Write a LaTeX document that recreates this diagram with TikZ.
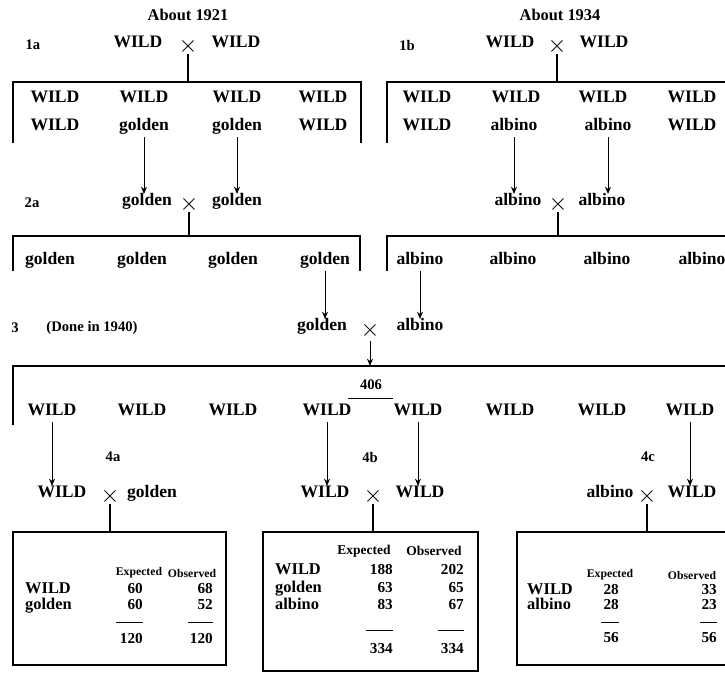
\documentclass[tikz,border=0pt]{standalone}
\usepackage{fontspec}
\setmainfont{Liberation Serif}
\usetikzlibrary{arrows.meta}

\begin{document}
\begin{tikzpicture}[x=0.03cm,y=-0.03cm,
  txt/.style={font=\fontsize{15}{18}\selectfont\bfseries,inner sep=1pt,
    text height=0.7em,text depth=0.2em},
  hdr/.style={font=\fontsize{14}{17}\selectfont\bfseries,inner sep=1pt},
  tag/.style={font=\fontsize{12.5}{15}\selectfont\bfseries,inner sep=1pt},
  cross/.style={font=\fontsize{22}{22}\selectfont,inner sep=0pt},
  brk/.style={line width=1.7pt},
  stem/.style={line width=1.7pt},
  arr/.style={-{Stealth[length=2.2mm,width=1.8mm]},line width=0.8pt,
    shorten <=2pt,shorten >=2pt},
  tbox/.style={draw,line width=1.3pt},
  colhd/.style={font=\fontsize{10}{12}\selectfont\bfseries,inner sep=0pt},
  colhdw/.style={font=\fontsize{11.5}{13}\selectfont\bfseries,inner sep=0pt},
  rowlab/.style={font=\fontsize{14}{16}\selectfont\bfseries,inner sep=0pt,anchor=west,
    text height=0.7em,text depth=0.2em},
  num/.style={font=\fontsize{13}{15}\selectfont\bfseries,inner sep=0pt,anchor=east,
    text height=0.7em,text depth=0.2em},
  rule/.style={line width=0.8pt}
]
\useasboundingbox (0,0) rectangle (725,675);

% dates
\node[hdr] (yrA) at (188,15) {About 1921};
\node[hdr] (yrB) at (560,15) {About 1934};

% 1a
\node[tag] (t1a) at (33,45) {1a};
\node[txt] (p1a) at (138,45) {WILD};
\node[cross] (x1a) at (188,46) {$\times$};
\node[txt] (q1a) at (236,45) {WILD};
\coordinate (k1a) at (190,82);
\draw[stem] (x1a.south) -- (x1a.south |- k1a);
\draw[brk] (13,143) |- (361,82) -- (361,143);
\node[txt] (a11) at (55,100) {WILD};
\node[txt] (a12) at (144,100) {WILD};
\node[txt] (a13) at (237,100) {WILD};
\node[txt] (a14) at (323,100) {WILD};
\node[txt] (a21) at (55,128) {WILD};
\node[txt] (a22) at (144,128) {golden};
\node[txt] (a23) at (237,128) {golden};
\node[txt] (a24) at (323,128) {WILD};

% 1b
\node[tag] (t1b) at (407,45) {1b};
\node[txt] (p1b) at (510,45) {WILD};
\node[cross] (x1b) at (557,46) {$\times$};
\node[txt] (q1b) at (604,45) {WILD};
\coordinate (k1b) at (557,82);
\draw[stem] (x1b.south) -- (x1b.south |- k1b);
\draw[brk] (387,143) |- (730,82);
\node[txt] (b11) at (427,100) {WILD};
\node[txt] (b12) at (516,100) {WILD};
\node[txt] (b13) at (603,100) {WILD};
\node[txt] (b14) at (692,100) {WILD};
\node[txt] (b21) at (427,128) {WILD};
\node[txt] (b22) at (514,128) {albino};
\node[txt] (b23) at (608,128) {albino};
\node[txt] (b24) at (692,128) {WILD};

% 2a
\node[tag] (t2a) at (32,203) {2a};
\node[txt] (p2a) at (147,203) {golden};
\node[cross] (x2a) at (189,204) {$\times$};
\node[txt] (q2a) at (237,203) {golden};
\coordinate (k2a) at (190,236);
\draw[stem] (x2a.south) -- (x2a.south |- k2a);
\draw[brk] (13,271) |- (360,236) -- (360,271);
\node[txt] (c1) at (50,262) {golden};
\node[txt] (c2) at (142,262) {golden};
\node[txt] (c3) at (233,262) {golden};
\node[txt] (c4) at (325,262) {golden};

% 2b
\node[txt] (p2b) at (518,203) {albino};
\node[cross] (x2b) at (558,204) {$\times$};
\node[txt] (q2b) at (602,203) {albino};
\coordinate (k2b) at (557,236);
\draw[stem] (x2b.south) -- (x2b.south |- k2b);
\draw[brk] (387,271) |- (730,236);
\node[txt] (d1) at (420,262) {albino};
\node[txt] (d2) at (513,262) {albino};
\node[txt] (d3) at (607,262) {albino};
\node[txt] (d4) at (702,262) {albino};

\draw[arr] (a22.south) -- (a22.south |- p2a.north);
\draw[arr] (a23.south) -- (a23.south |- q2a.north);
\draw[arr] (b22.south) -- (b22.south |- p2b.north);
\draw[arr] (b23.south) -- (b23.south |- q2b.north);

% 3
\node[tag] (t3) at (15,328) {3};
\node[tag] (done) at (92,328) {(Done in 1940)};
\node[txt] (p3) at (322,328) {golden};
\node[cross] (x3) at (370,330) {$\times$};
\node[txt] (q3) at (420,328) {albino};
\draw[arr] (c4.south) -- (c4.south |- p3.north);
\draw[arr] (d1.south) -- (d1.south |- q3.north);
\coordinate (k3) at (370,366);
\draw[arr,shorten >=0pt] (x3.south) -- (x3.south |- k3);
\draw[brk] (13,425) |- (730,366);
\node[tag] (n406) at (371,385) {406};
\draw[rule] (348,398) -- (393,398);
\node[txt] (e1) at (52,413) {WILD};
\node[txt] (e2) at (142,413) {WILD};
\node[txt] (e3) at (233,413) {WILD};
\node[txt] (e4) at (327,413) {WILD};
\node[txt] (e5) at (418,413) {WILD};
\node[txt] (e6) at (510,413) {WILD};
\node[txt] (e7) at (602,413) {WILD};
\node[txt] (e8) at (690,413) {WILD};

% 4a, 4b, 4c
\node[tag] (t4a) at (113,457) {4a};
\node[tag] (t4b) at (370,457) {4b};
\node[tag] (t4c) at (648,457) {4c};
\node[txt] (p4a) at (62,495) {WILD};
\node[cross] (x4a) at (110,496) {$\times$};
\node[txt] (q4a) at (152,495) {golden};
\node[txt] (p4b) at (325,495) {WILD};
\node[cross] (x4b) at (373,496) {$\times$};
\node[txt] (q4b) at (420,495) {WILD};
\node[txt] (p4c) at (610,495) {albino};
\node[cross] (x4c) at (647,496) {$\times$};
\node[txt] (q4c) at (692,495) {WILD};
\draw[arr] (e1.south) -- (e1.south |- p4a.north);
\draw[arr] (e4.south) -- (e4.south |- p4b.north);
\draw[arr] (e5.south) -- (e5.south |- q4b.north);
\draw[arr] (e8.south) -- (e8.south |- q4c.north);

% tables
\draw[tbox] (13,532) rectangle (226,665);
\draw[tbox] (263,532) rectangle (478,671);
\draw[tbox] (517,532) rectangle (730,665);
\coordinate (k4a) at (110,532);
\coordinate (k4b) at (375,532);
\coordinate (k4c) at (647,532);
\draw[stem] (x4a.south) -- (x4a.south |- k4a);
\draw[stem] (x4b.south) -- (x4b.south |- k4b);
\draw[stem] (x4c.south) -- (x4c.south |- k4c);

\node[colhd] (ea) at (139,573) {Expected};
\node[colhd] (oa) at (192,573) {Observed};
\node[rowlab] (la1) at (25,591) {WILD};
\node[rowlab] (la2) at (25,607) {golden};
\node[num] (ea1) at (143,591) {60};
\node[num] (ea2) at (143,607) {60};
\node[num] (oa1) at (213,591) {68};
\node[num] (oa2) at (213,607) {52};
\draw[rule] (116,622) -- (143,622);
\draw[rule] (188,622) -- (213,622);
\node[num] (eat) at (143,641) {120};
\node[num] (oat) at (213,641) {120};

\node[colhdw] (eb) at (364,551) {Expected};
\node[colhdw] (ob) at (434,551) {Observed};
\node[rowlab] (lb1) at (275,572) {WILD};
\node[rowlab] (lb2) at (275,590) {golden};
\node[rowlab] (lb3) at (275,607) {albino};
\node[num] (eb1) at (393,572) {188};
\node[num] (eb2) at (393,590) {63};
\node[num] (eb3) at (393,607) {83};
\node[num] (ob1) at (464,572) {202};
\node[num] (ob2) at (464,590) {65};
\node[num] (ob3) at (464,607) {67};
\draw[rule] (366,630) -- (393,630);
\draw[rule] (438,630) -- (464,630);
\node[num] (ebt) at (393,651) {334};
\node[num] (obt) at (464,651) {334};

\node[colhd] (ec) at (610,575) {Expected};
\node[colhd] (oc) at (692,575) {Observed};
\node[rowlab] (lc1) at (527,592) {WILD};
\node[rowlab] (lc2) at (527,607) {albino};
\node[num] (ec1) at (619,592) {28};
\node[num] (ec2) at (619,607) {28};
\node[num] (oc1) at (717,592) {33};
\node[num] (oc2) at (717,607) {23};
\draw[rule] (601,622) -- (619,622);
\draw[rule] (700,622) -- (717,622);
\node[num] (ect) at (619,640) {56};
\node[num] (oct) at (717,640) {56};
\end{tikzpicture}
\end{document}
